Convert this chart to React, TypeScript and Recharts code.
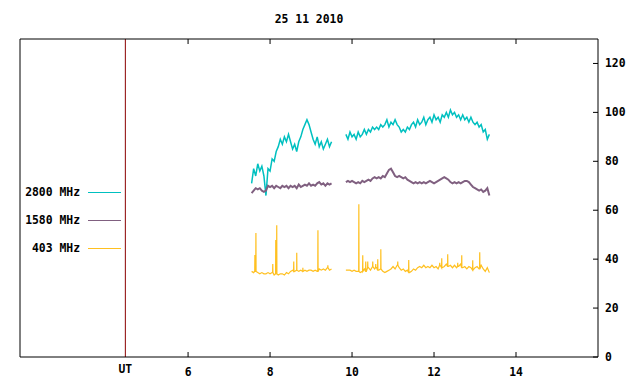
import React from 'react';
import { LineChart, Line, XAxis, YAxis, ReferenceLine, Legend } from 'recharts';

const TITLE = '25 11 2010';
const X_TICKS = [6, 8, 10, 12, 14];
const Y_TICKS = [0, 20, 40, 60, 80, 100, 120];
const UT_MARK = 4.47;
const UT_LABEL = 'UT';
const X_DOMAIN: [number, number] = [1.9, 16.0];
const Y_DOMAIN: [number, number] = [0, 130];

const SERIES_NAMES = ['2800 MHz', '1580 MHz', '403 MHz'];

// sampling grid of the two recording segments (hours UT)
const SEG1_START = 7.55;
const SEG2_START = 9.85;
const STEP = 0.05;

const cyan1 = [71, 77, 74, 79, 76, 78, 74, 66, 77, 76, 81, 80, 84, 86, 89, 87, 90, 88, 91, 88,
  85, 87, 84, 88, 90, 93, 95, 97, 95, 92, 89, 87, 90, 86, 88, 85, 87, 89, 86, 88];
const cyan2 = [91, 89, 92, 90,
  91, 89, 92, 90, 91, 93, 91, 93, 92, 94,
  93, 94, 93, 95, 94, 95, 97, 94, 96, 95,
  97, 95, 94, 92, 93, 92, 94, 93, 95, 96,
  94, 97, 95, 96, 98, 95, 97, 98, 96, 99,
  97, 98, 96, 99, 98, 100, 98, 101, 99, 100,
  98, 99, 97, 99, 97, 98, 96, 98, 96, 95,
  96, 94, 95, 92, 93, 89, 91];

const purple1 = [67, 68, 69, 68.5, 69, 68, 67.5, 68, 70, 69.5, 70, 69, 70, 69.5, 69, 70, 69.5, 70, 69, 70,
  69.5, 70, 69, 70.5, 69.5, 70, 70.5, 70, 71, 70, 70.5, 70, 71, 71.5, 70.5, 71, 70, 71, 70.5, 71];
const purple2 = [71.5, 72, 71.5, 72,
  71.5, 71, 71.5, 71, 72, 71.5, 72, 72.5, 72, 73,
  73.5, 73, 73.5, 73, 74, 73.5, 75, 76.5, 77, 75.5,
  74, 73.5, 74, 73.5, 73, 73.5, 72.5, 72, 71.5, 71,
  71.5, 71, 71.5, 71, 71.5, 71, 71.5, 72, 71.5, 71,
  71.5, 72, 72.5, 73, 73.5, 73, 72.5, 71.5, 71, 71.5,
  71, 71.5, 71, 71.5, 72, 72, 71.5, 70.5, 69.5, 69,
  68.5, 68, 68.5, 67.5, 68, 69, 66];

const orange1 = [35, 34.5, 35, 34.5, 34, 34.5, 34, 34, 34.5, 34, 34.5, 33.5, 34, 33.5, 34, 34, 33.5, 34.5, 34, 35,
  35.5, 35, 35.5, 35, 35.5, 35, 35.5, 35, 35.5, 35.5, 35, 35.5, 35, 36, 35.5, 36, 35.5, 36.5, 35.5, 36];
const orange2 = [35.5, 35.5, 35.5, 35,
  35.5, 35, 35, 34.5, 35, 36, 35, 36.5, 35.5, 37,
  36, 36.5, 35.5, 36, 35, 34.5, 35, 35.5, 36, 37,
  36, 37.5, 36.5, 35.5, 36, 35, 35.5, 34.5, 35, 36,
  35.5, 36.5, 37, 36.5, 37.5, 36.5, 37, 36.5, 37.5, 36.5,
  37, 36, 37.5, 36.5, 37, 38, 37, 37.5, 36.5, 37.5,
  36.5, 37, 38, 36.5, 37, 36, 37, 36.5, 35.5, 36.5,
  37, 36, 37.5, 36, 35, 36.5, 34.5];

// impulsive spikes of the 403 MHz record: [hour, value]
const orangeSpikes: [number, number][] = [
  [7.63, 41.7], [7.655, 50.7], [8.066, 38], [8.139, 47.8], [8.163, 53.9], [8.578, 39],
  [8.651, 42.6], [8.8, 36.5], [9.168, 51.8], [9.41, 37.5],
  [10.166, 62.4], [10.261, 41.6], [10.334, 39], [10.383, 39], [10.505, 39], [10.578, 38],
  [10.627, 40], [10.702, 44], [11.115, 39], [11.383, 39.6], [12.139, 38.5], [12.188, 40.4],
  [12.334, 42], [12.578, 38.5], [12.676, 41.6], [12.944, 39.5], [13.115, 42.8],
];

type Pt = { t: number; v: number | null };

const grid = (start: number, n: number) =>
  Array.from({ length: n }, (_, i) => Math.round((start + i * STEP) * 1000) / 1000);

function build(seg1: number[], seg2: number[], spikes: [number, number][] = []): Pt[] {
  const t1 = grid(SEG1_START, seg1.length);
  const t2 = grid(SEG2_START, seg2.length);
  const base: Pt[] = [
    ...t1.map((t, i) => ({ t, v: seg1[i] })),
    ...t2.map((t, i) => ({ t, v: seg2[i] })),
  ];
  const extra: Pt[] = [];
  spikes.forEach(([ts, val]) => {
    let near = base[0];
    base.forEach((p) => {
      if (Math.abs(p.t - ts) < Math.abs(near.t - ts)) near = p;
    });
    extra.push({ t: ts - 0.004, v: near.v }, { t: ts, v: val }, { t: ts + 0.004, v: near.v });
  });
  const gap: Pt = { t: (t1[t1.length - 1] + t2[0]) / 2, v: null };
  return [...base, ...extra, gap].sort((a, b) => a.t - b.t);
}

const data2800 = build(cyan1, cyan2);
const data1580 = build(purple1, purple2);
const data403 = build(orange1, orange2, orangeSpikes);

const COLORS = ['#00c0c0', '#806080', '#ffc020'];
const UT_COLOR = '#8b0000';

const FONT: React.CSSProperties = {
  fontFamily: '"DejaVu Sans Mono", monospace',
  fontWeight: 700,
  fontSize: 11.4,
};

const BottomTick = (p: any) => {
  const { x, y, payload } = p;
  const isUT = payload.value === UT_MARK;
  return (
    <g>
      {!isUT && <line x1={x} x2={x} y1={y} y2={y - 5} stroke="#000" />}
      <text x={x} y={y + (isUT ? 15.5 : 19)} textAnchor="middle" fill="#000" style={FONT}>
        {isUT ? UT_LABEL : payload.value}
      </text>
    </g>
  );
};

const TopTick = (p: any) => {
  const { x, y } = p;
  return <line x1={x} x2={x} y1={y} y2={y + 5} stroke="#000" />;
};

const RightTick = (p: any) => {
  const { x, y, payload } = p;
  return (
    <g>
      <line x1={x - 5} x2={x} y1={y} y2={y} stroke="#000" />
      <text x={x + 7} y={y + 4} textAnchor="start" fill="#000" style={FONT}>
        {payload.value}
      </text>
    </g>
  );
};

const LEGEND_ROWS = [191.5, 219.5, 248];

const LegendContent = (props: any) => {
  const payload = props.payload || [];
  return (
    <div style={{ position: 'relative', width: 130, height: 384 }}>
      {payload.map((e: any) => {
        const i = SERIES_NAMES.indexOf(e.value);
        return (
          <React.Fragment key={e.value}>
            <div
              style={{
                ...FONT,
                position: 'absolute',
                left: 0,
                width: 80,
                top: LEGEND_ROWS[i] - 7,
                lineHeight: '14px',
                textAlign: 'right',
                color: '#000',
                whiteSpace: 'nowrap',
              }}
            >
              {e.value}
            </div>
            <div
              style={{
                position: 'absolute',
                left: 88,
                width: 33,
                top: LEGEND_ROWS[i],
                height: 1,
                background: e.color,
              }}
            />
          </React.Fragment>
        );
      })}
    </div>
  );
};

export default function App() {
  return (
    <div style={{ position: 'absolute', left: 0, top: 0, width: 640, height: 384, background: '#fff' }}>
      <LineChart width={640} height={384} margin={{ top: 38, right: 0, bottom: 0, left: 19 }}>
        <XAxis
          xAxisId="b"
          dataKey="t"
          type="number"
          domain={X_DOMAIN}
          allowDataOverflow
          ticks={[UT_MARK, ...X_TICKS]}
          interval={0}
          height={27}
          tickSize={0}
          tickMargin={0}
          tick={<BottomTick />}
          axisLine={{ stroke: '#000' }}
        />
        <XAxis
          xAxisId="t"
          orientation="top"
          dataKey="t"
          type="number"
          domain={X_DOMAIN}
          allowDataOverflow
          ticks={X_TICKS}
          interval={0}
          height={1}
          tickSize={0}
          tickMargin={0}
          tick={<TopTick />}
          axisLine={{ stroke: '#000' }}
        />
        <YAxis
          yAxisId="l"
          orientation="left"
          width={1}
          domain={Y_DOMAIN}
          tick={false}
          tickLine={false}
          axisLine={{ stroke: '#000' }}
        />
        <YAxis
          yAxisId="r"
          orientation="right"
          width={42}
          domain={Y_DOMAIN}
          allowDataOverflow
          ticks={Y_TICKS}
          interval={0}
          tickSize={0}
          tickMargin={0}
          tick={<RightTick />}
          axisLine={{ stroke: '#000' }}
        />
        <ReferenceLine xAxisId="b" yAxisId="r" x={UT_MARK} stroke={UT_COLOR} strokeWidth={1} />
        <Legend
          layout="horizontal"
          verticalAlign="middle"
          align="center"
          content={<LegendContent />}
          wrapperStyle={{ position: 'absolute', left: 0, top: 0, width: 130, height: 384 }}
        />
        <Line
          xAxisId="b"
          yAxisId="r"
          data={data2800}
          dataKey="v"
          name={SERIES_NAMES[0]}
          stroke={COLORS[0]}
          strokeWidth={1.5}
          dot={false}
          type="linear"
          connectNulls={false}
          isAnimationActive={false}
        />
        <Line
          xAxisId="b"
          yAxisId="r"
          data={data1580}
          dataKey="v"
          name={SERIES_NAMES[1]}
          stroke={COLORS[1]}
          strokeWidth={2}
          dot={false}
          type="linear"
          connectNulls={false}
          isAnimationActive={false}
        />
        <Line
          xAxisId="b"
          yAxisId="r"
          data={data403}
          dataKey="v"
          name={SERIES_NAMES[2]}
          stroke={COLORS[2]}
          strokeWidth={1.2}
          dot={false}
          type="linear"
          connectNulls={false}
          isAnimationActive={false}
        />
      </LineChart>
      <svg
        width={640}
        height={36}
        style={{ position: 'absolute', left: 0, top: 0, pointerEvents: 'none' }}
      >
        <text x={309} y={22.5} textAnchor="middle" fill="#000" style={FONT}>
          {TITLE}
        </text>
      </svg>
    </div>
  );
}
